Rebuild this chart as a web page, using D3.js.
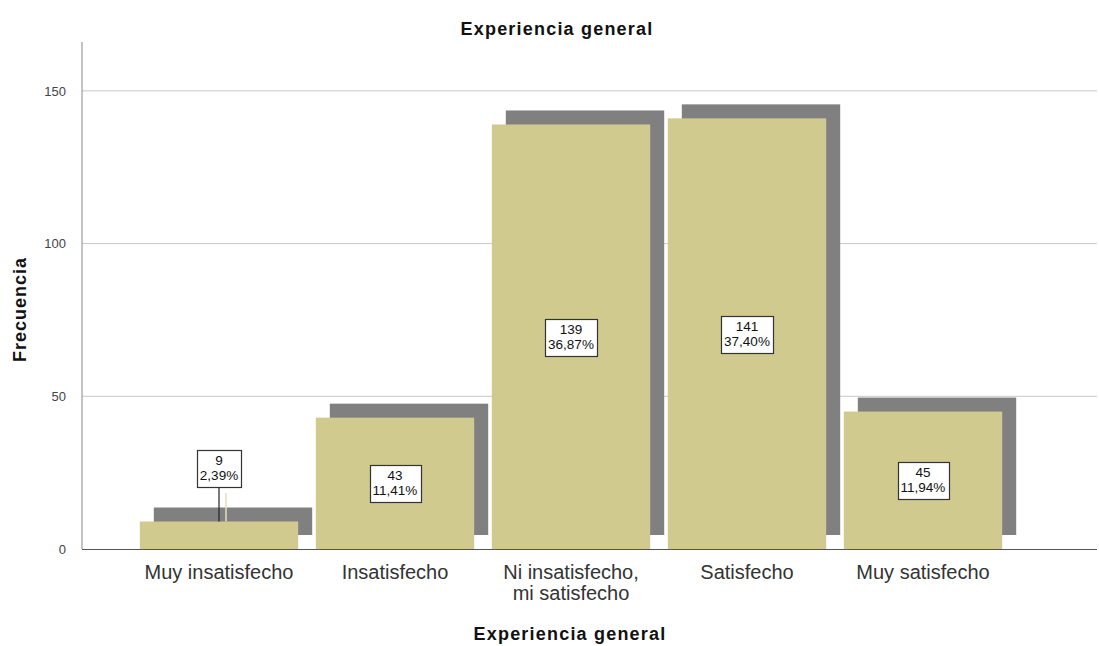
<!DOCTYPE html>
<html>
<head>
<meta charset="utf-8">
<script src="https://cdn.jsdelivr.net/npm/d3@7"></script>
<style>
  body { margin: 0; background: #fff; }
  svg { display: block; font-family: Arial, "Liberation Sans", sans-serif; }
</style>
</head>
<body>
<div id="chart"></div>
<script>
const categories = ['Muy insatisfecho', 'Insatisfecho', 'Ni insatisfecho,\nmi satisfecho', 'Satisfecho', 'Muy satisfecho'];
const counts = [9, 43, 139, 141, 45];
const percents = ['2,39%', '11,41%', '36,87%', '37,40%', '11,94%'];
const yTicks = [0, 50, 100, 150];

const W = 1099, H = 646;
const M = { t: 42, r: 2, b: 97, l: 82 };
const svg = d3.select('#chart').append('svg').attr('width', W).attr('height', H);

const y = d3.scaleLinear().domain([0, 166]).range([H - M.b, M.t]);
const x = d3.scaleBand().domain(categories).range([131, 1011]).paddingInner(0.1).paddingOuter(0.05);
const SH = 14;

// gridlines
svg.append('g').selectAll('line').data(yTicks.filter(d => d > 0)).enter().append('line')
  .attr('x1', M.l).attr('x2', W - M.r).attr('y1', d => y(d)).attr('y2', d => y(d))
  .attr('stroke', '#c9c9c9').attr('stroke-width', 1);

// shadows
svg.append('g').selectAll('rect').data(counts).enter().append('rect')
  .attr('x', (d, i) => x(categories[i]) + SH).attr('y', d => y(d) - SH)
  .attr('width', x.bandwidth()).attr('height', d => y(0) - y(d))
  .attr('fill', '#808080');

// bars
svg.append('g').selectAll('rect').data(counts).enter().append('rect')
  .attr('x', (d, i) => x(categories[i])).attr('y', d => y(d))
  .attr('width', x.bandwidth()).attr('height', d => y(0) - y(d))
  .attr('fill', '#d0ca8f');

// axes
const yAxis = svg.append('g').attr('transform', `translate(${M.l},0)`)
  .call(d3.axisLeft(y).tickValues(yTicks).tickSize(0).tickPadding(16));
yAxis.select('.domain').attr('stroke', '#888').attr('d', `M0,${M.t}V${y(0)}`);
yAxis.selectAll('text').attr('fill', '#444').style('font-size', '13px');

svg.append('line').attr('x1', M.l).attr('x2', W - M.r).attr('y1', y(0) + 0.5).attr('y2', y(0) + 0.5)
  .attr('stroke', '#555').attr('stroke-width', 1);

const xAxis = svg.append('g').attr('transform', `translate(0,${y(0)})`)
  .call(d3.axisBottom(x).tickSize(0).tickFormat(''));
xAxis.select('.domain').remove();
xAxis.selectAll('.tick').append('text')
  .attr('fill', '#333').attr('text-anchor', 'middle').style('font-size', '20px')
  .each(function (d) {
    const lines = d.split('\n');
    lines.forEach((l, j) => d3.select(this).append('tspan').attr('x', 0).attr('y', 30 + j * 21).text(l));
  });

// value labels
const lbl = svg.append('g');
counts.forEach((c, i) => {
  const cx = x(categories[i]) + x.bandwidth() / 2;
  let cy = (y(c) + y(0)) / 2;
  const small = c < 20;
  if (small) {
    cy = 468;
    lbl.append('line').attr('x1', cx).attr('x2', cx).attr('y1', cy + 19).attr('y2', y(c))
      .attr('stroke', '#222').attr('stroke-width', 1.2);
    lbl.append('line').attr('x1', cx + 7).attr('x2', cx + 7).attr('y1', cy + 25).attr('y2', y(c))
      .attr('stroke', '#e6dfb0').attr('stroke-width', 1.5);
  }
  const t = lbl.append('text').attr('text-anchor', 'middle').attr('fill', '#111').style('font-size', '13.5px');
  t.append('tspan').attr('x', cx).attr('y', cy - 3).text(c);
  t.append('tspan').attr('x', cx).attr('y', cy + 12).text(percents[i]);
  const bb = t.node().getBBox();
  lbl.insert('rect', () => t.node())
    .attr('x', Math.round(bb.x - 3) + 0.5).attr('y', Math.round(cy - 18) + 0.5)
    .attr('width', Math.round(bb.width + 6)).attr('height', 37)
    .attr('fill', '#fff').attr('stroke', '#333').attr('stroke-width', 1.2);
});

// titles
svg.append('text').attr('x', 557).attr('y', 35).attr('text-anchor', 'middle')
  .style('font-size', '18px').style('font-weight', 'bold').style('letter-spacing', '1.2px').attr('fill', '#111').text('Experiencia general');
svg.append('text').attr('x', 570).attr('y', 640).attr('text-anchor', 'middle')
  .style('font-size', '18px').style('font-weight', 'bold').style('letter-spacing', '1.2px').attr('fill', '#111').text('Experiencia general');
svg.append('text').attr('transform', `translate(26,${(M.t + y(0)) / 2 + 14}) rotate(-90)`).attr('text-anchor', 'middle')
  .style('font-size', '18px').style('font-weight', 'bold').style('letter-spacing', '1px').attr('fill', '#111').text('Frecuencia');
</script>
</body>
</html>
